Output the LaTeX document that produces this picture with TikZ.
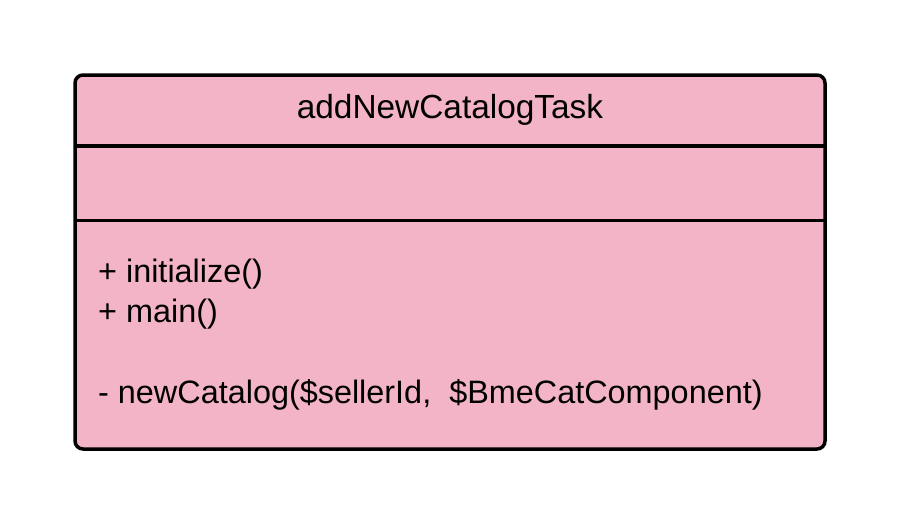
\documentclass[tikz,border=0pt]{standalone}
\usepackage{fontspec}
\setmainfont{Liberation Sans}
\definecolor{classpink}{RGB}{243,180,199}
\begin{document}
\begin{tikzpicture}[x=1pt,y=-1pt,
  titletext/.style={inner sep=0pt, font=\fontsize{33.4}{40}\selectfont},
  umltext/.style={inner sep=0pt, font=\fontsize{32.4}{40}\selectfont},
  border/.style={line width=3.5pt}]
\useasboundingbox (0,0) rectangle (900,525);
\draw[border, fill=classpink, rounded corners=8pt] (75,75) rectangle (825,449);
\coordinate (s1l) at (75,146); \coordinate (s1r) at (825,146);
\coordinate (s2l) at (75,220.5); \coordinate (s2r) at (825,220.5);
\draw[border] (s1l) -- (s1r);
\draw[border] (s2l) -- (s2r);
\node[titletext, anchor=base] (title) at (450,118) {addNewCatalogTask};
\node[umltext, anchor=base west] (m1) at (98,282) {+ initialize()};
\node[umltext, anchor=base west] (m2) at (98,322) {+ main()};
\node[umltext, anchor=base west] (m3) at (98,403) {- newCatalog(\$sellerId,\ \ \$BmeCatComponent)};
\end{tikzpicture}
\end{document}
